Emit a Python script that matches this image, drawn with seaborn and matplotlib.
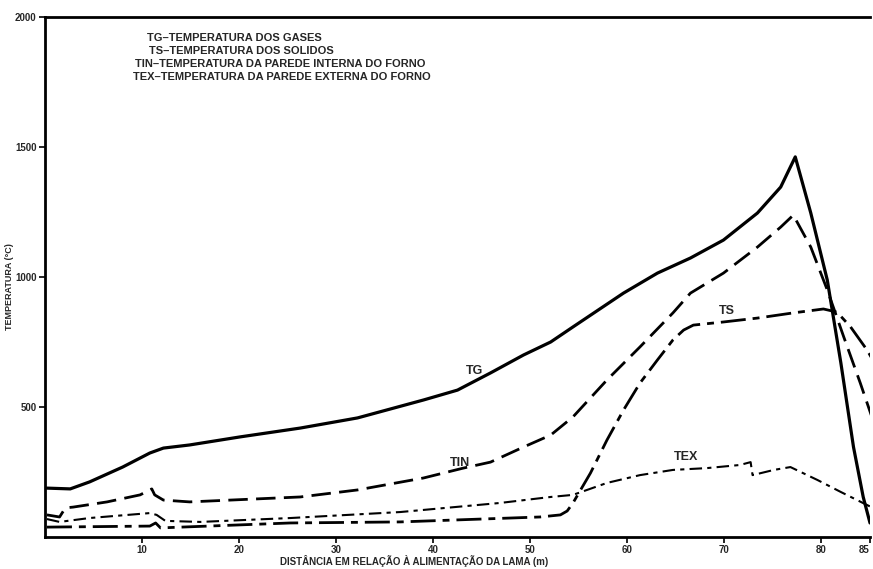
import matplotlib
matplotlib.use("Agg")
import matplotlib.pyplot as plt
import seaborn as sns
import pandas as pd

# Distance from slurry feed (m) and temperatures (°C) for each profile
tg_x = [0.2, 2.6, 4.6, 8.0, 10.8, 12.2, 14.9, 20.1, 26.3, 32.2, 39.0, 42.5, 45.9,
        49.3, 52.1, 54.4, 59.6, 63.1, 66.5, 69.9, 73.4, 75.8, 77.3, 78.9, 80.6,
        82.0, 83.3, 84.3, 85.0]
tg_y = [188, 185, 212, 269, 323, 342, 354, 385, 419, 458, 527, 565, 631,
        700, 750, 808, 938, 1015, 1073, 1142, 1246, 1346, 1462, 1246, 988,
        669, 346, 154, 54]

tin_x = [0.2, 1.5, 2.1, 2.9, 6.4, 9.8, 11.0, 11.3, 12.2, 14.9, 26.3, 32.2, 39.0,
         43.1, 45.9, 49.3, 52.1, 54.4, 57.9, 61.3, 64.7, 66.5, 69.9, 73.4,
         75.8, 77.1, 78.9, 80.6, 82.3, 84.0, 85.3]
tin_y = [85, 77, 112, 115, 135, 162, 185, 162, 142, 135, 154, 181, 227,
         265, 288, 346, 392, 462, 604, 731, 862, 938, 1015, 1115,
         1192, 1238, 1115, 950, 769, 592, 450]

ts_x = [0.2, 10.8, 11.4, 11.9, 25.3, 36.6, 51.0, 53.1, 53.8, 54.4, 56.2, 57.9,
        59.6, 61.3, 63.1, 64.7, 65.8, 66.8, 69.9, 73.4, 77.1, 80.2, 81.6,
        83.0, 84.7, 85.3]
ts_y = [38, 42, 54, 35, 54, 58, 77, 85, 100, 131, 246, 373,
        488, 592, 681, 758, 796, 815, 827, 842, 862, 877, 865,
        808, 719, 680]

tex_x = [0.2, 1.5, 4.6, 10.8, 11.5, 12.4, 16.0, 25.3, 36.6, 46.9, 52.1, 54.4,
         57.9, 61.3, 64.7, 68.2, 71.6, 72.7, 72.9, 75.1, 76.8, 79.6, 82.0,
         84.7, 85.3]
tex_y = [69, 58, 73, 92, 85, 62, 58, 73, 96, 131, 154, 162,
         208, 238, 258, 265, 277, 288, 238, 258, 269, 219, 173,
         123, 112]

x_ticks = [10, 20, 30, 40, 50, 60, 70, 80, 85]
y_ticks = [500, 1000, 1500, 2000]

legend_lines = [
    "TG\u2013TEMPERATURA DOS GASES",
    "TS\u2013TEMPERATURA DOS SOLIDOS",
    "TIN\u2013TEMPERATURA DA PAREDE INTERNA DO FORNO",
    "TEX\u2013TEMPERATURA DA PAREDE EXTERNA DO FORNO",
]

sns.set_theme(style="white")
plt.rcParams["font.family"] = ["Liberation Sans Narrow", "Liberation Sans", "DejaVu Sans"]
plt.rcParams["font.weight"] = "bold"

fig = plt.figure(figsize=(8.73, 5.69), dpi=100)
ax = fig.add_axes([45 / 873, 1 - 537 / 569, (870 - 45) / 873, (537 - 17) / 569])

series = [
    (tg_x, tg_y, dict(linestyle="-", linewidth=2.3)),
    (tin_x, tin_y, dict(dashes=(7, 3), linewidth=2.0)),
    (ts_x, ts_y, dict(dashes=(9, 2.5, 2.5, 2.5), linewidth=2.0)),
    (tex_x, tex_y, dict(dashes=(6, 2.5, 2, 2.5), linewidth=1.5)),
]
for xs, ys, style in series:
    df = pd.DataFrame({"x": xs, "y": ys})
    sns.lineplot(data=df, x="x", y="y", ax=ax, color="black", sort=False,
                 estimator=None, **style)

ax.set_xlim(0, 85)
ax.set_ylim(0, 2000)
ax.set_xticks(x_ticks)
ax.set_xticklabels([str(t) for t in x_ticks])
ax.set_yticks(y_ticks)
ax.set_yticklabels([str(t) for t in y_ticks])
ax.tick_params(axis="both", direction="out", length=4, width=1.2, color="black",
               labelsize=7, pad=2, bottom=True, left=True)
for lab in ax.get_xticklabels() + ax.get_yticklabels():
    lab.set_fontweight("bold")
# keep the last distance label inside the figure edge
ax.get_xticklabels()[-1].set_horizontalalignment("right")

for side in ["left", "bottom", "top"]:
    ax.spines[side].set_visible(True)
    ax.spines[side].set_color("black")
    ax.spines[side].set_linewidth(2.0)
ax.spines["right"].set_visible(False)

ax.set_xlabel("DISTÂNCIA EM RELAÇÃO À ALIMENTAÇÃO DA LAMA (m)", fontsize=7,
              fontweight="bold", labelpad=3)
ax.set_ylabel("TEMPERATURA (°C)", fontsize=6.5, fontweight="bold", labelpad=14)
ax.xaxis.set_label_coords((414 - 45) / 825, -0.035)
ax.yaxis.set_label_coords(-0.037, (537 - 287) / 520)

# Curve labels
ax.text(44.3, 640, "TG", fontsize=9, fontweight="bold", ha="center", va="center")
ax.text(42.8, 285, "TIN", fontsize=9, fontweight="bold", ha="center", va="center")
ax.text(70.3, 868, "TS", fontsize=9, fontweight="bold", ha="center", va="center")
ax.text(66.0, 306, "TEX", fontsize=9, fontweight="bold", ha="center", va="center")

# Key in the upper-left corner
key_pos = [(147, 38), (149, 51), (135, 64), (133, 77)]
for (px, py), line in zip(key_pos, legend_lines):
    fig.text(px / 873, 1 - py / 569, line, fontsize=8, fontweight="bold",
             ha="left", va="center")

ax.grid(False)
fig.savefig("out.png", dpi=100)
